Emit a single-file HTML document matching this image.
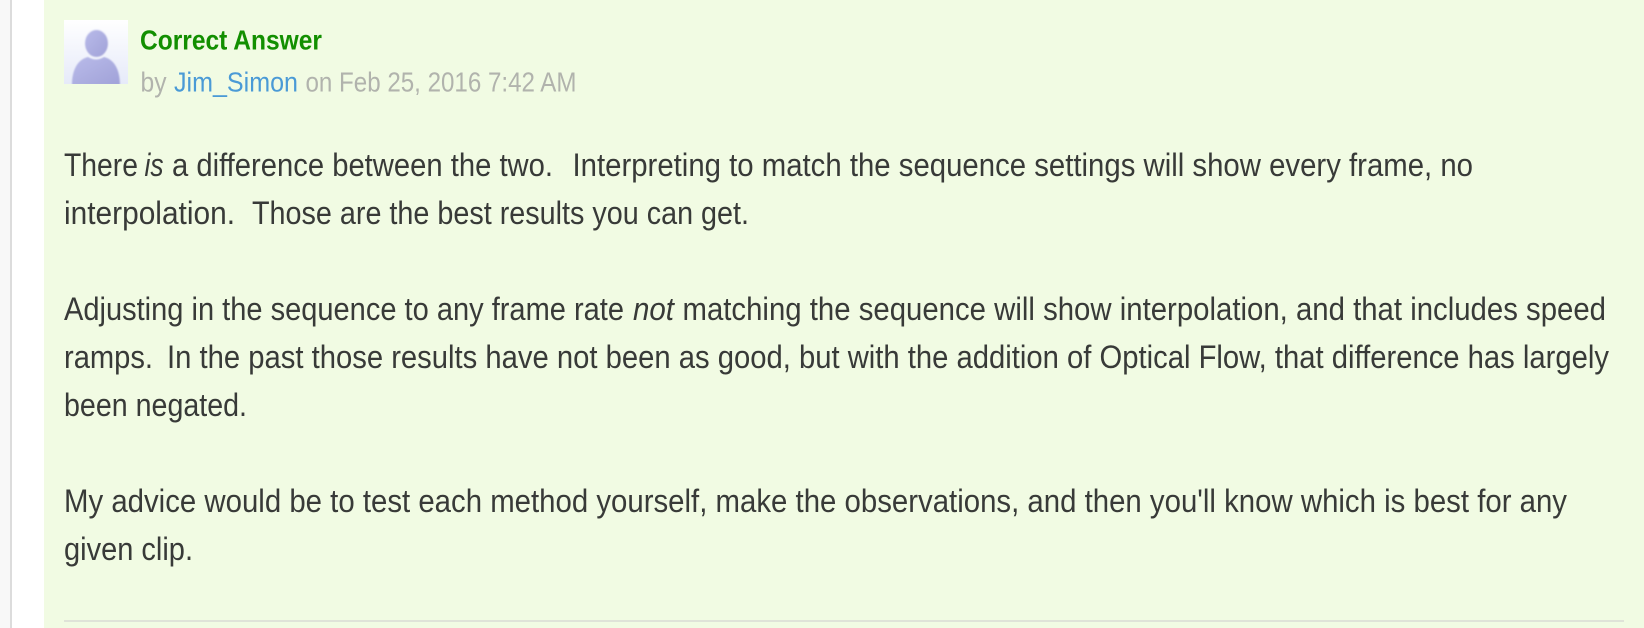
<!DOCTYPE html>
<html><head><meta charset="utf-8"><style>
html,body{margin:0;padding:0;width:1644px;height:628px;overflow:hidden;background:#fff}
svg{display:block}
text{font-family:"Liberation Sans",sans-serif;font-size:32px;fill:#383a38}
.h{font-size:28px}
</style></head><body>
<svg width="1644" height="628" viewBox="0 0 1644 628" xmlns="http://www.w3.org/2000/svg">
<defs>
<linearGradient id="bg" x1="0" y1="0" x2="0" y2="1"><stop offset="0" stop-color="#ffffff"/><stop offset="1" stop-color="#e6eaf9"/></linearGradient>
<linearGradient id="fg" x1="0" y1="0" x2="1" y2="1"><stop offset="0" stop-color="#b9bbe9"/><stop offset="1" stop-color="#a0a1d8"/></linearGradient>
<filter id="b" x="-20%" y="-20%" width="140%" height="140%"><feGaussianBlur stdDeviation="0.9"/></filter>
<clipPath id="av"><rect x="64" y="20" width="64" height="64"/></clipPath>
</defs>
<rect width="1644" height="628" fill="#fff"/>
<rect x="0" y="0" width="10" height="628" fill="#f8f8f8"/>
<rect x="10" y="0" width="2" height="628" fill="#dcdcdc"/>
<rect x="44" y="0" width="1600" height="628" fill="#f1fbe3"/>
<rect x="64" y="620" width="1560" height="2" fill="#dfe3d8"/>

<g clip-path="url(#av)">
<rect x="64" y="20" width="64" height="64" fill="url(#bg)"/>
<g filter="url(#b)">
<path d="M72 85 C72 68 79 59 88 57 Q96 62 104 57 C113 59 120 68 120 85 Z" fill="url(#fg)"/>
<ellipse cx="96.500" cy="43.500" rx="12" ry="14" fill="url(#fg)" stroke="#f4f5fd" stroke-width="1"/>
</g>
</g>

<text class="h" x="140" y="49.500" textLength="182" lengthAdjust="spacingAndGlyphs" font-weight="700" style="fill:#128f00">Correct Answer</text>
<text class="h" x="140.500" y="91.500" textLength="26" lengthAdjust="spacingAndGlyphs" style="fill:#b1b3ad">by</text>
<text class="h" x="174" y="91.500" textLength="124" lengthAdjust="spacingAndGlyphs" style="fill:#4a9ad6">Jim_Simon</text>
<text class="h" x="305.500" y="91.500" textLength="271" lengthAdjust="spacingAndGlyphs" style="fill:#b1b3ad">on Feb 25, 2016 7:42 AM</text>

<text x="64" y="176" textLength="74" lengthAdjust="spacingAndGlyphs">There</text>
<text x="144.500" y="176" textLength="19" lengthAdjust="spacingAndGlyphs" font-style="italic">is</text>
<text x="172" y="176" textLength="381" lengthAdjust="spacingAndGlyphs">a difference between the two.</text>
<text x="572.500" y="176" textLength="900.500" lengthAdjust="spacingAndGlyphs">Interpreting to match the sequence settings will show every frame, no</text>
<text x="64" y="224" textLength="171" lengthAdjust="spacingAndGlyphs">interpolation.</text>
<text x="252" y="224" textLength="497" lengthAdjust="spacingAndGlyphs">Those are the best results you can get.</text>

<text x="64" y="320" textLength="560" lengthAdjust="spacingAndGlyphs">Adjusting in the sequence to any frame rate</text>
<text x="633" y="320" textLength="41" lengthAdjust="spacingAndGlyphs" font-style="italic">not</text>
<text x="682.500" y="320" textLength="923.500" lengthAdjust="spacingAndGlyphs">matching the sequence will show interpolation, and that includes speed</text>
<text x="64" y="368" textLength="89" lengthAdjust="spacingAndGlyphs">ramps.</text>
<text x="167" y="368" textLength="1442" lengthAdjust="spacingAndGlyphs">In the past those results have not been as good, but with the addition of Optical Flow, that difference has largely</text>
<text x="64" y="416" textLength="183" lengthAdjust="spacingAndGlyphs">been negated.</text>

<text x="64" y="512" textLength="1503" lengthAdjust="spacingAndGlyphs">My advice would be to test each method yourself, make the observations, and then you'll know which is best for any</text>
<text x="64" y="560" textLength="129" lengthAdjust="spacingAndGlyphs">given clip.</text>
</svg>
</body></html>
